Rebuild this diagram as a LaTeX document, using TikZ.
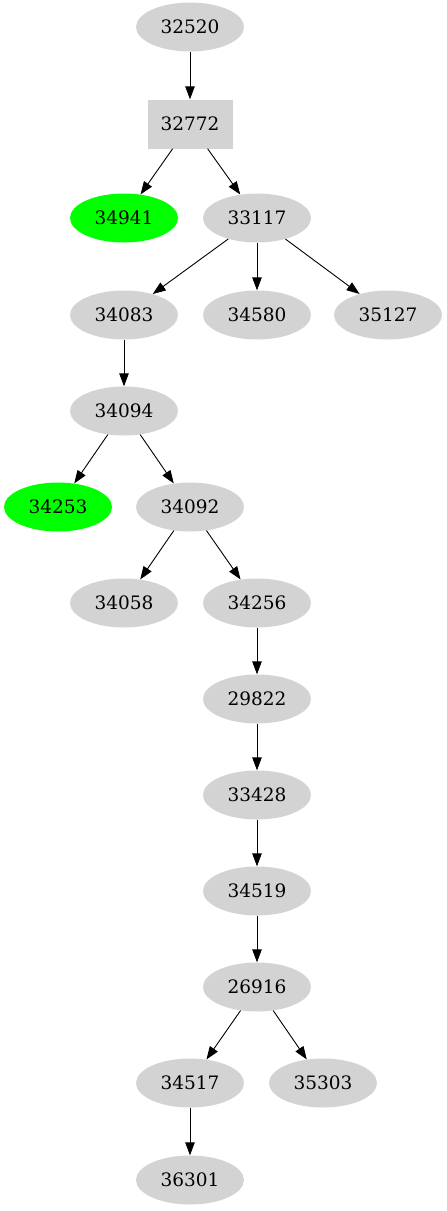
\documentclass[tikz,border=0pt]{standalone}
\usepackage{fontspec}
\setmainfont{DejaVu Serif}
\usetikzlibrary{shapes.geometric,arrows.meta}
\definecolor{lgray}{HTML}{D3D3D3}
\definecolor{lgreen}{HTML}{00FF00}
\begin{document}
\begin{tikzpicture}[x=1pt,y=-1pt,
  every node/.style={font=\fontsize{18.5}{22}\selectfont, inner sep=0pt},
  ell/.style={ellipse, fill=lgray, minimum width=108pt, minimum height=49pt},
  gell/.style={ell, fill=lgreen},
  boxn/.style={rectangle, fill=lgray, minimum width=85pt, minimum height=49pt},
  edge/.style={line width=0.9pt, -{Triangle[length=13pt,width=9.5pt]}}]
\useasboundingbox (0,0) rectangle (447,1211);
\node[ell] (n32520) at (190,27) {32520};
\node[boxn] (n32772) at (190,124) {32772};
\node[gell] (n34941) at (124,218) {34941};
\node[ell] (n33117) at (257,218) {33117};
\node[ell] (n34083) at (124,315) {34083};
\node[ell] (n34580) at (257,315) {34580};
\node[ell] (n35127) at (388,315) {35127};
\node[ell] (n34094) at (124,411) {34094};
\node[gell] (n34253) at (58,507) {34253};
\node[ell] (n34092) at (190,507) {34092};
\node[ell] (n34058) at (124,603) {34058};
\node[ell] (n34256) at (257,603) {34256};
\node[ell] (n29822) at (257,699) {29822};
\node[ell] (n33428) at (257,795) {33428};
\node[ell] (n34519) at (257,891) {34519};
\node[ell] (n26916) at (257,987) {26916};
\node[ell] (n34517) at (190,1083) {34517};
\node[ell] (n35303) at (323,1083) {35303};
\node[ell] (n36301) at (190,1180) {36301};
\draw[edge] (n32520) -- (n32772);
\draw[edge] (n32772) -- (n34941);
\draw[edge] (n32772) -- (n33117);
\draw[edge] (n33117) -- (n34083);
\draw[edge] (n33117) -- (n34580);
\draw[edge] (n33117) -- (n35127);
\draw[edge] (n34083) -- (n34094);
\draw[edge] (n34094) -- (n34253);
\draw[edge] (n34094) -- (n34092);
\draw[edge] (n34092) -- (n34058);
\draw[edge] (n34092) -- (n34256);
\draw[edge] (n34256) -- (n29822);
\draw[edge] (n29822) -- (n33428);
\draw[edge] (n33428) -- (n34519);
\draw[edge] (n34519) -- (n26916);
\draw[edge] (n26916) -- (n34517);
\draw[edge] (n26916) -- (n35303);
\draw[edge] (n34517) -- (n36301);
\end{tikzpicture}
\end{document}
